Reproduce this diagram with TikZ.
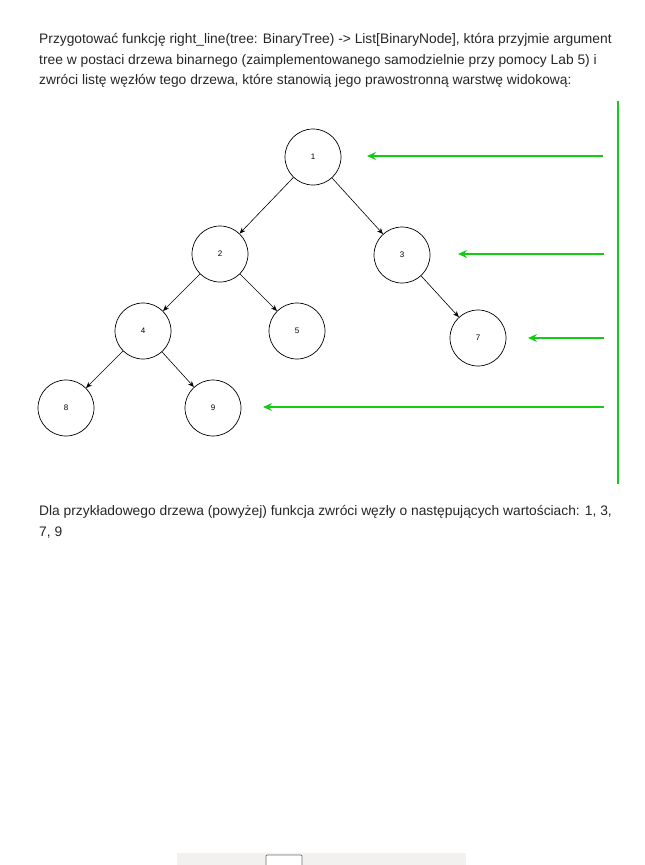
\documentclass[tikz,border=0pt]{standalone}
\usepackage{fontspec}
\setmainfont{Liberation Sans}
\usetikzlibrary{arrows.meta}
\definecolor{zielony}{RGB}{20,204,20}
\definecolor{pasek}{RGB}{242,241,240}
\begin{document}
\begin{tikzpicture}[x=1pt,y=-1pt,
vert/.style={circle,draw,line width=0.7pt,inner sep=0pt,minimum size=56pt,font=\fontsize{8}{8}\selectfont},
edge/.style={line width=0.6pt,-{Stealth[length=6pt,width=5pt]}},
look/.style={zielony,line width=1.6pt,-{Stealth[length=9pt,width=8pt,inset=3pt]}},
txt/.style={anchor=base west,inner sep=0pt,font=\fontsize{13.8}{14}\selectfont,text=black!85}]
\useasboundingbox (0,0) rectangle (645,865);

\node[txt] at (39,43.5)  (t1) {Przygotować funkcję right\_line(tree: BinaryTree) -> List[BinaryNode], która przyjmie argument};
\node[txt] at (39,64)    (t2) {tree w postaci drzewa binarnego (zaimplementowanego samodzielnie przy pomocy Lab 5) i};
\node[txt] at (39,84.5)  (t3) {zwróci listę węzłów tego drzewa, które stanowią jego prawostronną warstwę widokową:};
\node[txt] at (39,515.5) (t4) {Dla przykładowego drzewa (powyżej) funkcja zwróci węzły o następujących wartościach: 1, 3,};
\node[txt] at (39,536)   (t5) {7, 9};

\node[vert] at (313,157) (1) {1};
\node[vert] at (220,254) (2) {2};
\node[vert] at (402,255) (3) {3};
\node[vert] at (143,331) (4) {4};
\node[vert] at (297,331) (5) {5};
\node[vert] at (478,338) (7) {7};
\node[vert] at (66,408)  (8) {8};
\node[vert] at (213,408) (9) {9};

\draw[edge] (1) -- (2);
\draw[edge] (1) -- (3);
\draw[edge] (2) -- (4);
\draw[edge] (2) -- (5);
\draw[edge] (3) -- (7);
\draw[edge] (4) -- (8);
\draw[edge] (4) -- (9);

% warstwa widokowa
\coordinate (g1) at (603,156);
\coordinate (g3) at (604,254);
\coordinate (g7) at (604,338);
\coordinate (g9) at (604,407);
\coordinate (k1) at (367,156);
\coordinate (k3) at (458,254);
\coordinate (k7) at (528,338);
\coordinate (k9) at (263,407);
\draw[look] (g1) -- (k1);
\draw[look] (g3) -- (k3);
\draw[look] (g7) -- (k7);
\draw[look] (g9) -- (k9);
\coordinate (top) at (618,101);
\coordinate (bot) at (618,484);
\draw[zielony,line width=1.8pt] (top) -- (bot);

% pasek na dole
\fill[pasek] (177,853) rectangle (466,865);
\draw[fill=white,draw=black!55,line width=0.8pt,rounded corners=1pt] (266,866) -- (266,855) -- (302,855) -- (302,866);
\end{tikzpicture}
\end{document}
